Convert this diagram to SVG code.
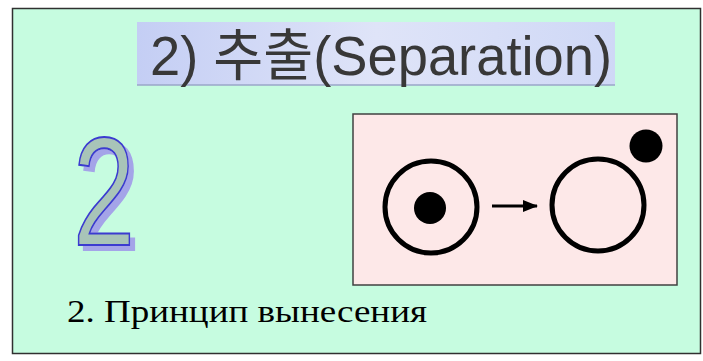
<svg xmlns="http://www.w3.org/2000/svg" width="703" height="361" viewBox="0 0 703 361">
  <defs>
    <linearGradient id="banner" x1="0" y1="0" x2="1" y2="0">
      <stop offset="0" stop-color="#c4cef4"/>
      <stop offset="0.5" stop-color="#dfe4f8"/>
      <stop offset="1" stop-color="#cfd8f6"/>
    </linearGradient>
    <marker id="arrow" viewBox="0 0 15 12" refX="14" refY="6" markerWidth="15" markerHeight="12" orient="auto" markerUnits="userSpaceOnUse">
      <path d="M0,0 L15,6 L0,12 z" fill="#000"/>
    </marker>
    <filter id="shadow" x="-20%" y="-20%" width="150%" height="150%">
      <feFlood flood-color="#a4a4e8" result="c"/>
      <feComposite in="c" in2="SourceAlpha" operator="in" result="s"/>
      <feOffset in="s" dx="5" dy="5" result="o"/>
      <feMerge>
        <feMergeNode in="o"/>
        <feMergeNode in="SourceGraphic"/>
      </feMerge>
    </filter>
  </defs>
  <style>
    .ring { fill: none; stroke: #000; stroke-width: 5; }
    .dot { fill: #000; }
  </style>
  <rect x="0" y="0" width="703" height="361" fill="#ffffff"/>
  <rect x="12.5" y="8.5" width="688" height="345" fill="#c6fce0" stroke="#303030" stroke-width="1.5"/>

  <g id="title">
    <rect x="137" y="22" width="478" height="63" fill="url(#banner)"/>
    <line x1="137" y1="85" x2="615" y2="85" stroke="#9aa6c8" stroke-width="1.5"/>
    <text x="150" y="75" font-family="'Liberation Sans', 'Noto Sans CJK KR', sans-serif" font-size="56" fill="#383838" textLength="462" lengthAdjust="spacingAndGlyphs">2) 추출(Separation)</text>
  </g>

  <g id="numeral">
    <text x="73" y="245" font-family="'Liberation Sans', Arial, sans-serif" font-size="154" fill="#a8c4b8" stroke="#3a3ad0" stroke-width="2" textLength="62" lengthAdjust="spacingAndGlyphs" filter="url(#shadow)">2</text>
  </g>

  <g id="panel">
    <rect x="353" y="114" width="324" height="171" fill="#fde8e8" stroke="#404040" stroke-width="1.5"/>
  </g>

  <g id="before">
    <circle class="ring" cx="431" cy="207" r="46"/>
    <circle class="dot" cx="430" cy="208" r="16"/>
  </g>

  <g id="after">
    <circle class="ring" cx="598" cy="205" r="46"/>
    <circle class="dot" cx="646" cy="146" r="16.5"/>
  </g>

  <g id="connectors">
    <line x1="492" y1="206" x2="537" y2="206" stroke="#000" stroke-width="3" marker-end="url(#arrow)"/>
  </g>

  <g id="caption">
    <text x="67" y="322" font-family="'Liberation Serif', 'Times New Roman', serif" font-size="31" fill="#000" textLength="360" lengthAdjust="spacingAndGlyphs">2. Принцип вынесения</text>
  </g>
</svg>
